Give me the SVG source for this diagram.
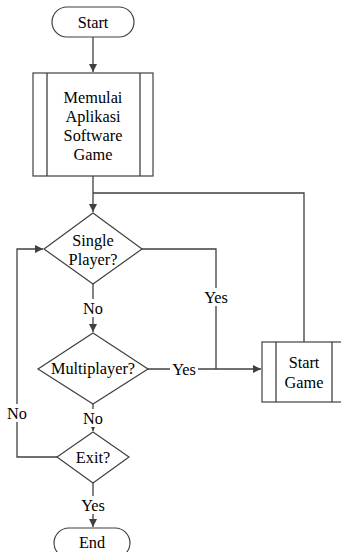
<svg xmlns="http://www.w3.org/2000/svg" width="341" height="552" viewBox="0 0 341 552">
<defs>
<marker id="arr" viewBox="0 0 10 10" refX="10" refY="5" markerWidth="8" markerHeight="8" markerUnits="userSpaceOnUse" orient="auto">
<path d="M0,0 L10,5 L0,10 z" fill="#404040"/>
</marker>
</defs>
<style>
.shape{fill:#fff;stroke:#404040;stroke-width:1.2}
.line{fill:none;stroke:#404040;stroke-width:1.3}
</style>
<rect width="341" height="552" fill="#fff"/>
<g font-family="'Liberation Serif', 'Times New Roman', Tinos, serif" font-size="16.3" fill="#000" text-anchor="middle" dominant-baseline="central">
<g id="connectors">
<path class="line" d="M93,37 V72" marker-end="url(#arr)"/>
<path class="line" d="M93,176 V212" marker-end="url(#arr)"/>
<path class="line" d="M304,342 V193 H93"/>
<path class="line" d="M142,249 H216 V369"/>
<path class="line" d="M93,284 V332" marker-end="url(#arr)"/>
<path class="line" d="M148,369 H261" marker-end="url(#arr)"/>
<path class="line" d="M93,404 V431" marker-end="url(#arr)"/>
<path class="line" d="M57,457 H17 V249 H43" marker-end="url(#arr)"/>
<path class="line" d="M93,483 V527" marker-end="url(#arr)"/>
<rect x="203" y="288" width="26" height="18" fill="#fff"/>
<text x="216" y="297">Yes</text>
<rect x="82" y="299" width="22" height="18" fill="#fff"/>
<text x="93" y="308">No</text>
<rect x="170" y="360" width="28" height="18" fill="#fff"/>
<text x="184" y="369">Yes</text>
<rect x="82" y="409" width="22" height="18" fill="#fff"/>
<text x="93" y="418">No</text>
<rect x="6" y="404" width="22" height="18" fill="#fff"/>
<text x="17" y="413">No</text>
<rect x="80" y="496" width="26" height="18" fill="#fff"/>
<text x="93" y="505">Yes</text>
</g>
<g id="start">
<rect class="shape" x="52" y="7" width="82" height="30" rx="15" ry="15"/>
<text x="93" y="22">Start</text>
</g>
<g id="memulai">
<rect class="shape" x="33" y="73" width="120" height="103"/>
<path class="line" d="M47,73 V176 M140,73 V176"/>
<text x="93" y="97">Memulai</text>
<text x="93" y="116">Aplikasi</text>
<text x="93" y="135">Software</text>
<text x="93" y="154">Game</text>
</g>
<g id="single">
<polygon class="shape" points="93,213 142,249 93,284 44,249"/>
<text x="93" y="240">Single</text>
<text x="93" y="259">Player?</text>
</g>
<g id="multi">
<polygon class="shape" points="93,333 148,369 93,404 38,369"/>
<text x="93" y="368">Multiplayer?</text>
</g>
<g id="exit">
<polygon class="shape" points="93,432 129,457 93,483 57,457"/>
<text x="93" y="457">Exit?</text>
</g>
<g id="startgame">
<rect class="shape" x="262" y="342" width="84" height="60"/>
<path class="line" d="M276,342 V402 M332,342 V402"/>
<text x="304" y="362">Start</text>
<text x="304" y="382">Game</text>
</g>
<g id="end">
<rect class="shape" x="54" y="528" width="76" height="30" rx="15" ry="15"/>
<text x="92" y="542">End</text>
</g>
</g>
</svg>
